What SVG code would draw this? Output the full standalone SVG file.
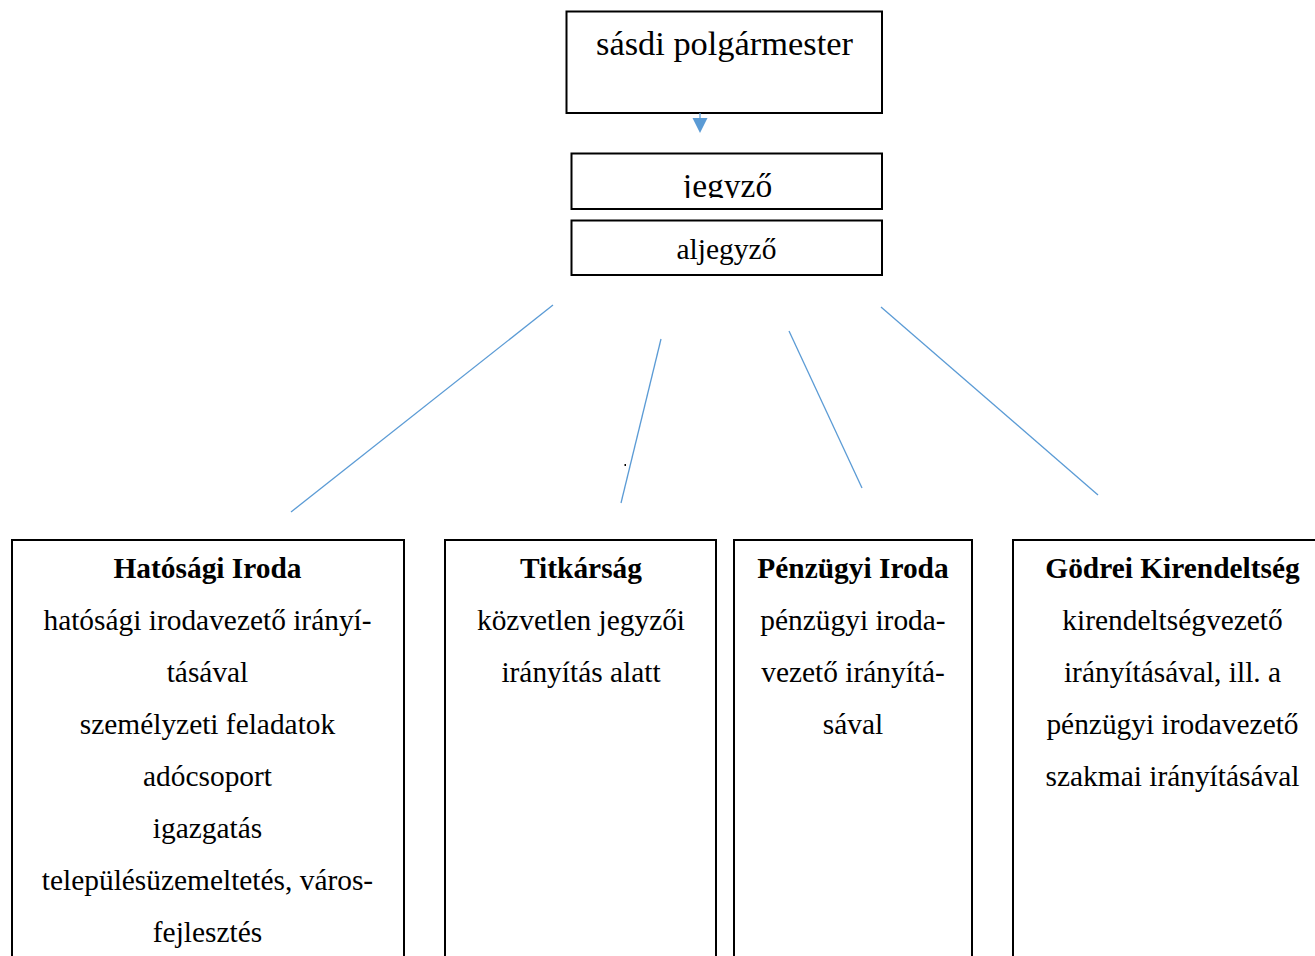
<svg xmlns="http://www.w3.org/2000/svg" width="1315" height="956" viewBox="0 0 1315 956">
<style>
.box{fill:#fff;stroke:#000;stroke-width:2}
.t{font-family:"Liberation Serif","Times New Roman",serif;font-size:29.4px;fill:#000;text-anchor:middle}
.b{font-weight:bold}
.c{stroke:#5b9bd5;stroke-width:1.3;fill:none}
</style>
<defs>
<clipPath id="jclip"><rect x="572" y="154" width="309" height="44"/></clipPath>
</defs>
<rect width="1315" height="956" fill="#fff"/>
<g id="polgarmester">
<rect class="box" x="566.500" y="11.500" width="315.500" height="101.500"/>
<text class="t" x="724.500" y="54.500" style="font-size:34.400px">sásdi polgármester</text>
</g>
<g id="jegyzo">
<rect class="box" x="571.500" y="153.500" width="310.500" height="55.500"/>
<text class="t" x="727.500" y="196.500" style="font-size:33.500px" clip-path="url(#jclip)">jegyző</text>
</g>
<g id="aljegyzo">
<rect class="box" x="571.500" y="220.500" width="310.500" height="54.500"/>
<text class="t" x="726.500" y="258.500" style="font-size:29.500px">aljegyző</text>
</g>
<g id="connectors">
<line class="c" x1="700" y1="113" x2="700" y2="120" stroke-width="2"/>
<polygon points="692.500,118 707.500,118 700,133" fill="#5b9bd5"/>
<line class="c" x1="553" y1="305" x2="291" y2="512"/>
<line class="c" x1="661" y1="339" x2="621" y2="503"/>
<line class="c" x1="789" y1="331" x2="862" y2="488"/>
<line class="c" x1="881" y1="307" x2="1098" y2="495"/>
</g>
<rect x="624.500" y="464" width="1.500" height="2" fill="#000"/>
<g id="hatosagi">
<rect class="box" x="12" y="540" width="392" height="430"/>
<text class="t b" x="207.500" y="578">Hatósági Iroda</text>
<text class="t" x="207.500" y="630">hatósági irodavezető irányí-</text>
<text class="t" x="207.500" y="682">tásával</text>
<text class="t" x="207.500" y="734">személyzeti feladatok</text>
<text class="t" x="207.500" y="786">adócsoport</text>
<text class="t" x="207.500" y="838">igazgatás</text>
<text class="t" x="207.500" y="890">településüzemeltetés, város-</text>
<text class="t" x="207.500" y="942">fejlesztés</text>
</g>
<g id="titkarsag">
<rect class="box" x="445" y="540" width="271" height="430"/>
<text class="t b" x="581" y="578">Titkárság</text>
<text class="t" x="581" y="630">közvetlen jegyzői</text>
<text class="t" x="581" y="682">irányítás alatt</text>
</g>
<g id="penzugyi">
<rect class="box" x="734" y="540" width="238" height="430"/>
<text class="t b" x="853" y="578">Pénzügyi Iroda</text>
<text class="t" x="853" y="630">pénzügyi iroda-</text>
<text class="t" x="853" y="682">vezető irányítá-</text>
<text class="t" x="853" y="734">sával</text>
</g>
<g id="godrei">
<rect class="box" x="1013" y="540" width="320" height="430"/>
<text class="t b" x="1172.500" y="578">Gödrei Kirendeltség</text>
<text class="t" x="1172.500" y="630">kirendeltségvezető</text>
<text class="t" x="1172.500" y="682">irányításával, ill. a</text>
<text class="t" x="1172.500" y="734">pénzügyi irodavezető</text>
<text class="t" x="1172.500" y="786">szakmai irányításával</text>
</g>
</svg>
